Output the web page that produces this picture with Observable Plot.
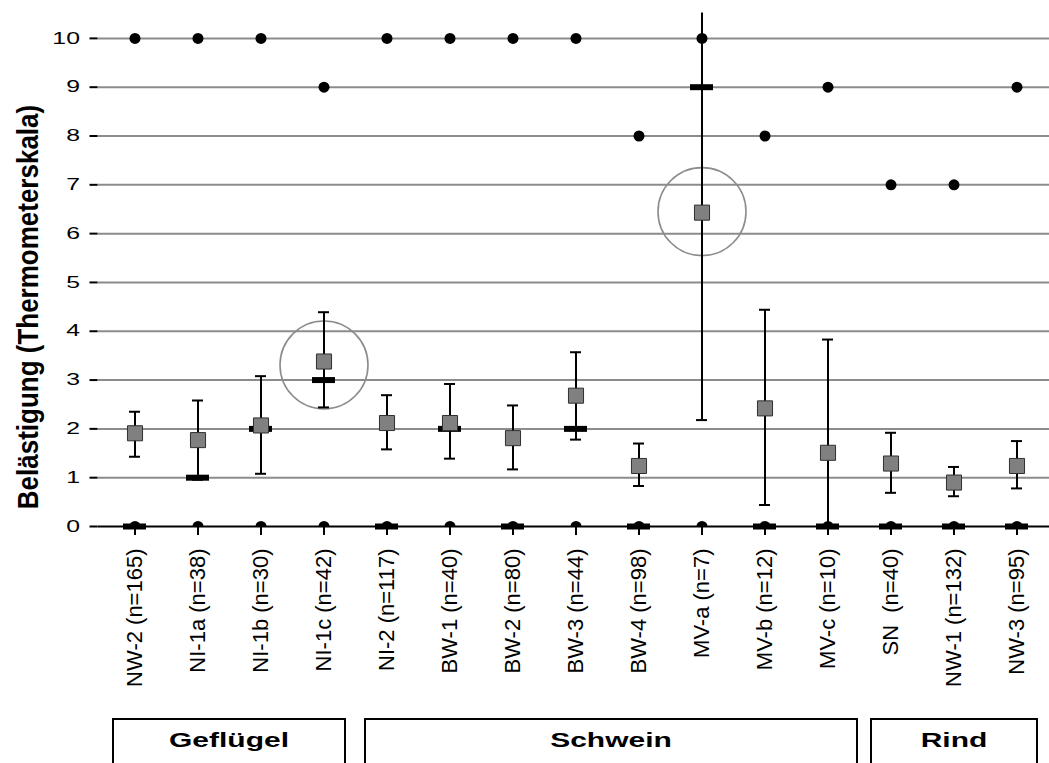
<!DOCTYPE html>
<html>
<head>
<meta charset="utf-8">
<script src="https://cdn.jsdelivr.net/npm/d3@7"></script>
<script src="https://cdn.jsdelivr.net/npm/@observablehq/plot@0.6"></script>
<style>
  html, body { margin: 0; padding: 0; background: #fff; }
  svg { display: block; }
</style>
</head>
<body>
<div id="chart"></div>
<script>
// ---- data ----
const categories = ["NW-2 (n=165)", "NI-1a (n=38)", "NI-1b (n=30)", "NI-1c (n=42)", "NI-2 (n=117)",
  "BW-1 (n=40)", "BW-2 (n=80)", "BW-3 (n=44)", "BW-4 (n=98)", "MV-a (n=7)", "MV-b (n=12)",
  "MV-c (n=10)", "SN\u00a0\u00a0(n=40)", "NW-1 (n=132)", "NW-3 (n=95)"];
const maxVals = [10, 10, 10, 9, 10, 10, 10, 10, 8, 10, 8, 9, 7, 7, 9];
const minVals = [0, 0, 0, 0, 0, 0, 0, 0, 0, 0, 0, 0, 0, 0, 0];
const medians = [0, 1, 2, 3, 0, 2, 0, 2, 0, 9, 0, 0, 0, 0, 0];
const means   = [1.91, 1.77, 2.07, 3.38, 2.12, 2.12, 1.81, 2.68, 1.24, 6.43, 2.42, 1.51, 1.29, 0.90, 1.24];
const ciLow   = [1.43, 0.96, 1.08, 2.44, 1.58, 1.39, 1.17, 1.78, 0.83, 2.18, 0.44, -0.81, 0.69, 0.62, 0.78];
const ciHigh  = [2.35, 2.58, 3.08, 4.39, 2.69, 2.92, 2.48, 3.57, 1.70, 10.68, 4.44, 3.83, 1.92, 1.22, 1.75];
const highlightCats = ["NI-1c (n=42)", "MV-a (n=7)"];
const highlightCenters = [3.31, 6.45];
const yTicks = [0, 1, 2, 3, 4, 5, 6, 7, 8, 9, 10];
const groupNames = ["Geflügel", "Schwein", "Rind"];
const groupFirst = ["NW-2 (n=165)", "NI-2 (n=117)", "SN\u00a0\u00a0(n=40)"];
const groupLast  = ["NI-1c (n=42)", "MV-c (n=10)", "NW-3 (n=95)"];
const yTitle = "Belästigung (Thermometerskala)";

// ---- table ----
const rows = categories.map((c, i) => ({
  cat: c, max: maxVals[i], min: minVals[i], median: medians[i],
  mean: means[i], lo: ciLow[i], hi: ciHigh[i]
}));
const highlights = highlightCats.map((c, i) => ({cat: c, center: highlightCenters[i]}));

const FONT = "'Liberation Sans', Arial, Helvetica, sans-serif";

const plot = Plot.plot({
  width: 1049,
  height: 763,
  marginLeft: 97.5,
  marginRight: -4,
  marginTop: 12.5,
  marginBottom: 237,
  style: {fontFamily: FONT, color: "black", background: "white"},
  x: {type: "band", domain: categories, padding: 0},
  y: {domain: [0, 10.52]},
  marks: [
    Plot.ruleY(yTicks.filter(d => d > 0), {stroke: "#8c8c8c", strokeWidth: 2}),
    Plot.dot(highlights, {x: "cat", y: "center", r: 44, stroke: "#8c8c8c", strokeWidth: 1.6, fill: "none"}),
    Plot.ruleX(rows, {x: "cat", y1: "lo", y2: "hi", stroke: "black", strokeWidth: 2, clip: true}),
    Plot.tickY(rows, {x: "cat", y: "lo", stroke: "black", strokeWidth: 2, insetLeft: 26, insetRight: 26, clip: true}),
    Plot.tickY(rows, {x: "cat", y: "hi", stroke: "black", strokeWidth: 2, insetLeft: 26, insetRight: 26, clip: true}),
    Plot.dot(rows, {x: "cat", y: "min", r: 5.5, fill: "black", clip: true}),
    Plot.ruleY([0], {stroke: "black", strokeWidth: 2}),
    Plot.tickY(rows, {x: "cat", y: "median", stroke: "black", strokeWidth: 6, insetLeft: 20, insetRight: 20}),
    Plot.dot(rows, {x: "cat", y: "mean", symbol: "square", r: 8.5, fill: "#808080", stroke: "#303030", strokeWidth: 1}),
    Plot.dot(rows, {x: "cat", y: "max", r: 5.5, fill: "black"}),
    Plot.axisY({ticks: yTicks, tickSize: 8, tickPadding: 10, fontSize: 16, label: null, line: true, strokeWidth: 2}),
    Plot.axisX({tickRotate: -90, tickSize: 9, tickPadding: 13, fontSize: 22, label: null, strokeWidth: 2})
  ]
});

document.getElementById("chart").appendChild(plot);

const svg = d3.select(plot);

// stretch y tick labels horizontally (reference text is wide)
svg.selectAll('g[aria-label="y-axis tick label"] text').each(function() {
  const bb = this.getBBox();
  const R = bb.x + bb.width;
  const t = this.getAttribute("transform") || "";
  this.setAttribute("transform", `${t} translate(${R},0) scale(1.55,1) translate(${-R},0)`);
});

// y axis title
svg.append("text")
  .attr("transform", "translate(38,307) rotate(-90) scale(1,1.15)")
  .attr("text-anchor", "middle")
  .attr("font-family", FONT)
  .attr("font-weight", "bold")
  .attr("font-size", 26)
  .attr("fill", "black")
  .text(yTitle);

// group boxes below the axis, positioned through the x scale
const xs = plot.scale("x");
const bw = xs.bandwidth;
const insetL = [10, 10, 12];
const insetR = [10, 2, 11];
groupNames.forEach((name, i) => {
  const x0 = xs.apply(groupFirst[i]) + insetL[i];
  const x1 = xs.apply(groupLast[i]) + bw - insetR[i];
  svg.append("rect")
    .attr("x", x0).attr("y", 719)
    .attr("width", x1 - x0).attr("height", 60)
    .attr("fill", "white").attr("stroke", "black").attr("stroke-width", 2);
  const cx = (x0 + x1) / 2;
  svg.append("text")
    .attr("transform", `translate(${cx},747) scale(1.5,1.05)`)
    .attr("text-anchor", "middle")
    .attr("font-family", FONT)
    .attr("font-weight", "bold")
    .attr("font-size", 20)
    .attr("fill", "black")
    .text(name);
});
</script>
</body>
</html>
